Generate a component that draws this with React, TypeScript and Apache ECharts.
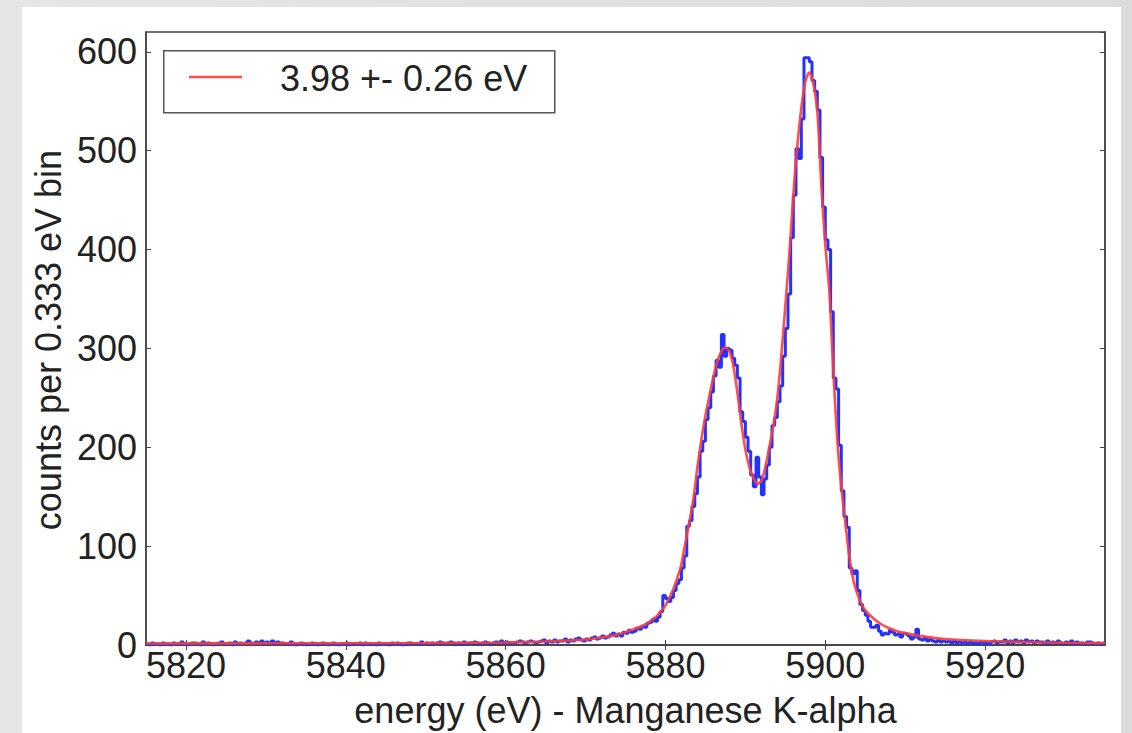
import React, { useEffect, useRef } from "react";
import * as echarts from "echarts";

// Histogram of counts, 0.333 eV bins starting at 5815 eV (three bins per eV, one row per eV)
const binStart = 5815;
const binsPerEv = 3;
const counts: number[] = [
  1,0,2, 1,1,0, 2,1,1, 0,2,1, 1,3,1, 0,1,2, 2,1,0, 3,1,2, 1,0,1, 2,3,1, // 5815-5824
  1,2,0, 3,1,2, 1,2,4, 2,1,3, 2,4,1, 3,2,4, 1,3,2, 2,1,1, 3,1,0, 1,2,1, // 5825-5834
  0,1,2, 1,0,1, 2,1,0, 1,2,1, 0,1,1, 2,0,1, 1,1,2, 0,2,1, 1,1,0, 2,1,1, // 5835-5844
  1,0,2, 1,2,1, 0,1,2, 2,1,1, 1,3,1, 2,1,2, 1,2,3, 2,1,2, 3,2,1, 2,1,3, // 5845-5854
  1,2,2, 3,2,1, 2,3,2, 1,2,3, 2,4,2, 3,2,1, 2,3,4, 3,2,3, 4,3,2, 3,4,5, // 5855-5864
  2,4,3, 5,3,4, 4,6,3, 5,4,6, 7,5,4, 6,5,7, 8,6,7, 9,7,8, 10,12,9, 11,9,13, // 5865-5874
  12,15,13, 14,17,16, 19,18,22, 23,26,24, 28,34,50, 47,44,48, 55,62,66, 78,90,120, 126,140,153, 170,196,206, // 5875-5884
  228,240,256, 272,288,281, 314,292,300, 298,290,283, 270,236,226, 210,196,172, 160,190,170, 152,168,182, 200,222,230, 246,262,292, // 5885-5894
  320,355,412, 455,502,492, 532,594,594, 590,571,560, 541,493,443, 410,400,337, 270,259,202, 156,130,119, 78,72,75, 55,41,35, // 5895-5904
  30,24,18, 18,20,14, 10,12,11, 15,13,10, 11,8,12, 11,9,6, 8,16,6, 5,7,4, 6,4,3, 5,3,4, // 5905-5914
  3,4,2, 4,2,3, 2,3,1, 3,2,2, 1,3,2, 2,1,3, 4,2,3, 3,5,2, 4,2,5, 3,4,2, // 5915-5924
  5,3,4, 2,4,3, 3,1,4, 2,3,2, 4,2,1, 3,2,4, 1,3,2, 2,1,3, 3,2,1, 2,1,2, // 5925-5934
];

// Fitted line (energy in eV, counts)
const fitEnergy: number[] = [
  5815, 5830, 5850, 5860, 5865, 5868, 5870, 5872, 5874, 5875, 5876, 5877, 5878, 5879,
  5880, 5880.5, 5881, 5881.5, 5882, 5882.5, 5883, 5883.5, 5884, 5884.5, 5885, 5885.5,
  5886, 5886.5, 5887, 5887.5, 5888, 5888.5, 5889, 5889.5, 5890, 5890.5, 5891, 5891.5,
  5892, 5892.5, 5893, 5893.5, 5894, 5894.5, 5895, 5895.5, 5896, 5896.5, 5897, 5897.5,
  5898, 5898.5, 5899, 5899.5, 5900, 5900.5, 5901, 5901.5, 5902, 5902.5, 5903, 5903.5,
  5904, 5904.5, 5905, 5906, 5907, 5908, 5909, 5910, 5912, 5915, 5920, 5925, 5930, 5935,
];
const fitCounts: number[] = [
  1.5, 1.7, 2, 2.6, 3.5, 4.5, 5.5, 7.5, 10.5, 13, 16, 19, 23.5, 30,
  40, 48, 57, 68, 82, 104, 125, 148, 180, 208, 232, 252,
  271, 287, 297, 301, 297, 282, 255, 224, 198, 180, 169, 163,
  166, 180, 200, 222, 250, 293, 343, 395, 455, 505, 543, 570,
  579, 568, 540, 465, 405, 358, 278, 208, 160, 124, 90, 66,
  52, 42, 35, 27, 21, 17, 14, 12, 9, 6, 4, 3, 2.2, 2,
];

const xTicks: number[] = [5820, 5840, 5860, 5880, 5900, 5920];
const legendLabel = "3.98 +- 0.26 eV";
const xName = "energy (eV) - Manganese K-alpha";
const yName = "counts per 0.333 eV bin";

export default function App() {
  const ref = useRef<HTMLDivElement>(null);
  useEffect(() => {
    if (!ref.current) return;
    const chart = echarts.init(ref.current, null, { renderer: "svg" });
    const histData = counts.map((c, i) => [binStart + (i + 0.5) / binsPerEv, c]);
    const fitData = fitEnergy.map((e, i) => [e, fitCounts[i]]);
    const font = "'Liberation Sans', Arial, Helvetica, sans-serif";
    const fs = 36;
    const axisLine = { show: true, lineStyle: { color: "#444", width: 1.5 } };
    chart.setOption({
      animation: false,
      backgroundColor: "transparent",
      grid: {
        left: 146, top: 32, right: 27, bottom: 85,
        show: true, borderColor: "#444", borderWidth: 1.5, backgroundColor: "#fff",
      },
      xAxis: [
        {
          type: "value", min: 5815, max: 5935, position: "bottom",
          axisLine,
          splitLine: { show: false },
          axisTick: { inside: true, length: 5, customValues: xTicks, lineStyle: { color: "#444" } },
          axisLabel: {
            customValues: xTicks, fontSize: fs, color: "#222", fontFamily: font, margin: 2,
            formatter: (v: number) => String(v),
          },
          name: xName, nameLocation: "middle", nameGap: 47,
          nameTextStyle: { fontSize: fs, color: "#222", fontFamily: font },
        },
        {
          type: "value", min: 5815, max: 5935, position: "top",
          axisLine,
          splitLine: { show: false },
          axisTick: { inside: true, length: 5, customValues: xTicks, lineStyle: { color: "#444" } },
          axisLabel: { show: false },
        },
      ],
      yAxis: [
        {
          type: "value", min: 0, max: 620, interval: 100, position: "left",
          axisLine,
          splitLine: { show: false },
          axisTick: { inside: true, length: 5, lineStyle: { color: "#444" } },
          axisLabel: { fontSize: fs, color: "#222", fontFamily: font, margin: 9 },
        },
        {
          type: "value", min: 0, max: 620, interval: 100, position: "right",
          axisLine,
          splitLine: { show: false },
          axisTick: { inside: true, length: 5, lineStyle: { color: "#444" } },
          axisLabel: { show: false },
        },
      ],
      series: [
        {
          type: "line", name: "data", data: histData, step: "middle",
          symbol: "none", lineStyle: { color: "#2233ff", width: 3 }, z: 2,
        },
        {
          type: "line", name: legendLabel, data: fitData, smooth: 0.3,
          symbol: "none", lineStyle: { color: "rgba(255,60,60,0.9)", width: 2.6 }, z: 3,
        },
      ],
      graphic: [
        {
          type: "text", x: 48, y: 340, rotation: Math.PI / 2, z: 11,
          style: { text: yName, fontSize: fs, fill: "#222", fontFamily: font, align: "center", verticalAlign: "middle" },
        },
        {
          type: "rect", left: 163, top: 50, z: 10,
          shape: { width: 391, height: 62 },
          style: { fill: "#fff", stroke: "#555", lineWidth: 1.5 },
        },
        {
          type: "line", z: 11,
          shape: { x1: 189, y1: 77, x2: 242, y2: 77 },
          style: { stroke: "rgba(255,60,60,0.9)", lineWidth: 2.6 },
        },
        {
          type: "text", left: 280, top: 60, z: 11,
          style: { text: legendLabel, fontSize: fs, fill: "#222", fontFamily: font },
        },
      ],
    });
    return () => chart.dispose();
  }, []);

  return (
    <div style={{ position: "fixed", left: 0, top: 0, width: 1132, height: 733, background: "linear-gradient(90deg, #e6e6e6, #dcdcdc)" }}>
      <div style={{ position: "absolute", left: 22, top: 7, width: 1099, height: 726, background: "#fff" }} />
      <div ref={ref} style={{ position: "absolute", left: 0, top: 0, width: 1132, height: 733 }} />
    </div>
  );
}
